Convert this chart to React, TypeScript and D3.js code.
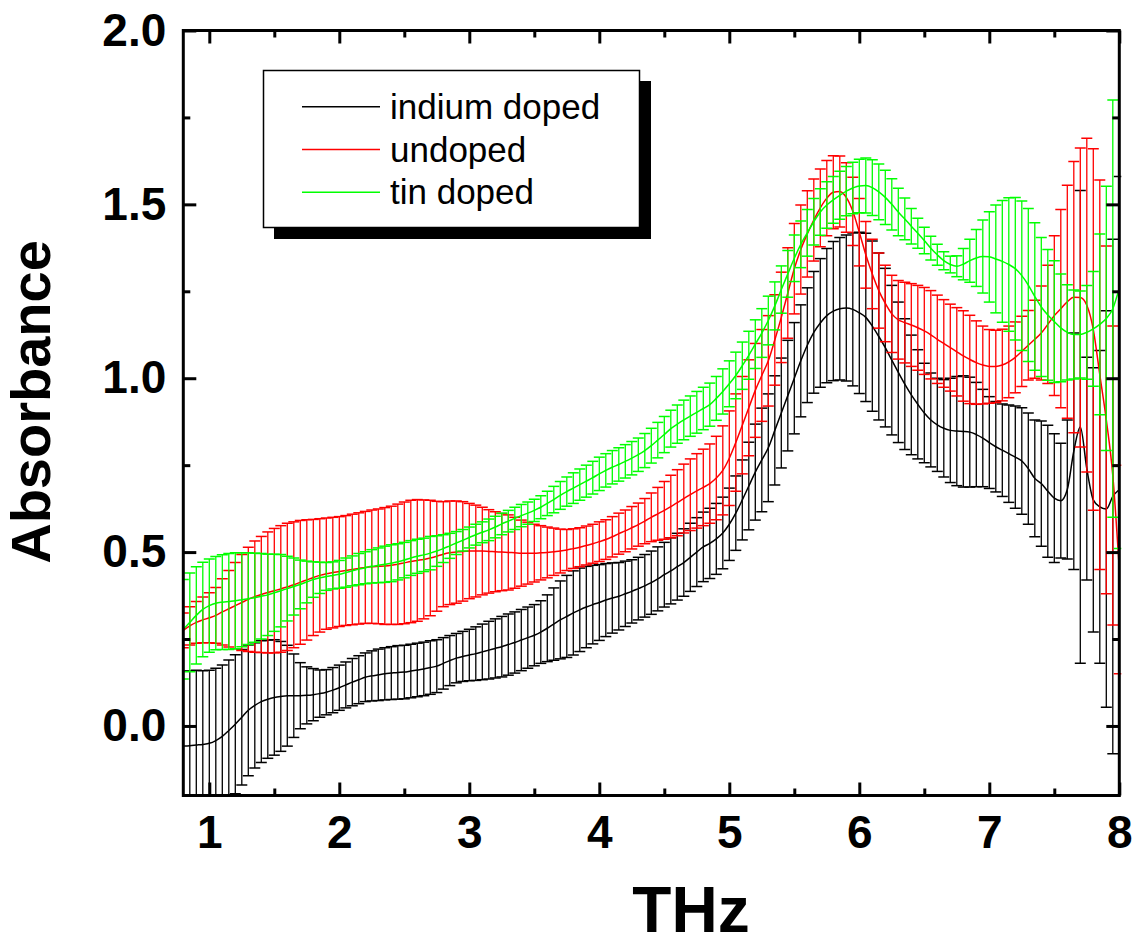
import React, { useEffect, useRef } from 'react';
import * as d3 from 'd3';

// absorbance, one value every 0.05 THz from 0.80 to 8.00
const indiumMean = [
  -0.058, -0.057, -0.055, -0.053, -0.050, -0.042, -0.030, -0.013, 0.005, 0.025,
  0.045, 0.059, 0.070, 0.077, 0.082, 0.085, 0.087, 0.087, 0.087, 0.088,
  0.090, 0.093, 0.097, 0.103, 0.110, 0.118, 0.126, 0.133, 0.140, 0.144,
  0.147, 0.150, 0.152, 0.154, 0.155, 0.158, 0.161, 0.164, 0.168, 0.172,
  0.180, 0.188, 0.195, 0.200, 0.204, 0.208, 0.213, 0.218, 0.223, 0.228,
  0.234, 0.240, 0.247, 0.254, 0.261, 0.270, 0.281, 0.293, 0.305, 0.315,
  0.325, 0.334, 0.342, 0.349, 0.355, 0.362, 0.368, 0.373, 0.380, 0.387,
  0.395, 0.403, 0.412, 0.423, 0.435, 0.446, 0.458, 0.470, 0.485, 0.500,
  0.515, 0.525, 0.538, 0.555, 0.580, 0.612, 0.650, 0.690, 0.730, 0.765,
  0.800, 0.850, 0.900, 0.950, 1.000, 1.050, 1.095, 1.132, 1.159, 1.180,
  1.193, 1.200, 1.202, 1.198, 1.188, 1.175, 1.150, 1.120, 1.088, 1.052,
  1.017, 0.983, 0.952, 0.925, 0.900, 0.880, 0.866, 0.856, 0.850, 0.848,
  0.847, 0.845, 0.838, 0.828, 0.815, 0.803, 0.793, 0.783, 0.773, 0.762,
  0.740, 0.712, 0.697, 0.675, 0.655, 0.648, 0.680, 0.790, 0.860, 0.740,
  0.650, 0.630, 0.624, 0.660, 0.680
];
const indiumErr = [
  0.215, 0.215, 0.215, 0.212, 0.210, 0.208, 0.205, 0.203, 0.200, 0.195,
  0.188, 0.180, 0.175, 0.170, 0.166, 0.158, 0.145, 0.120, 0.095, 0.082,
  0.075, 0.068, 0.065, 0.065, 0.065, 0.066, 0.068, 0.069, 0.070, 0.072,
  0.074, 0.075, 0.076, 0.077, 0.077, 0.077, 0.077, 0.077, 0.077, 0.076,
  0.074, 0.072, 0.071, 0.072, 0.074, 0.077, 0.080, 0.083, 0.085, 0.087,
  0.088, 0.088, 0.088, 0.088, 0.088, 0.090, 0.096, 0.104, 0.112, 0.118,
  0.121, 0.120, 0.117, 0.113, 0.109, 0.105, 0.101, 0.097, 0.094, 0.091,
  0.090, 0.090, 0.091, 0.092, 0.093, 0.095, 0.096, 0.097, 0.098, 0.099,
  0.100, 0.101, 0.102, 0.103, 0.104, 0.107, 0.115, 0.126, 0.138, 0.149,
  0.155, 0.157, 0.158, 0.159, 0.160, 0.161, 0.165, 0.175, 0.185, 0.193,
  0.200, 0.205, 0.210, 0.220, 0.232, 0.242, 0.245, 0.240, 0.228, 0.215,
  0.202, 0.188, 0.172, 0.157, 0.143, 0.135, 0.134, 0.140, 0.150, 0.157,
  0.160, 0.158, 0.150, 0.140, 0.132, 0.130, 0.133, 0.140, 0.147, 0.153,
  0.160, 0.168, 0.180, 0.190, 0.185, 0.165, 0.200, 0.340, 0.680, 0.320,
  0.380, 0.450, 0.570, 0.740, 0.900
];
const undopedMean = [
  0.275, 0.288, 0.298, 0.305, 0.311, 0.318, 0.328, 0.337, 0.346, 0.355,
  0.364, 0.372, 0.378, 0.384, 0.389, 0.394, 0.400, 0.406, 0.413, 0.420,
  0.427, 0.433, 0.438, 0.441, 0.444, 0.447, 0.450, 0.453, 0.456, 0.458,
  0.459, 0.460, 0.462, 0.465, 0.469, 0.473, 0.476, 0.479, 0.483, 0.488,
  0.494, 0.498, 0.500, 0.502, 0.503, 0.503, 0.503, 0.502, 0.501, 0.500,
  0.499, 0.498, 0.497, 0.497, 0.497, 0.498, 0.499, 0.501, 0.503, 0.506,
  0.510, 0.514, 0.519, 0.524, 0.530, 0.536, 0.544, 0.553, 0.561, 0.570,
  0.579, 0.589, 0.600, 0.610, 0.620, 0.631, 0.642, 0.654, 0.665, 0.676,
  0.686, 0.697, 0.713, 0.735, 0.770, 0.815, 0.865, 0.915, 0.965, 1.008,
  1.050, 1.110, 1.175, 1.245, 1.315, 1.370, 1.415, 1.455, 1.490, 1.518,
  1.535, 1.537, 1.520, 1.480, 1.420, 1.355, 1.300, 1.252, 1.215, 1.185,
  1.168, 1.160, 1.153, 1.145, 1.136, 1.125, 1.112, 1.100, 1.088, 1.076,
  1.064, 1.054, 1.045, 1.038, 1.034, 1.034, 1.038, 1.047, 1.060, 1.077,
  1.095, 1.112, 1.130, 1.155, 1.180, 1.200, 1.220, 1.233, 1.232, 1.210,
  1.140, 1.010, 0.880, 0.720, 0.450
];
const undopedErr = [
  0.050, 0.055, 0.060, 0.066, 0.072, 0.080, 0.095, 0.110, 0.124, 0.138,
  0.150, 0.160, 0.167, 0.174, 0.179, 0.182, 0.183, 0.181, 0.178, 0.173,
  0.167, 0.163, 0.160, 0.159, 0.158, 0.158, 0.159, 0.160, 0.161, 0.163,
  0.165, 0.168, 0.170, 0.173, 0.175, 0.176, 0.175, 0.171, 0.166, 0.158,
  0.151, 0.149, 0.147, 0.143, 0.137, 0.132, 0.126, 0.120, 0.115, 0.111,
  0.108, 0.102, 0.095, 0.089, 0.083, 0.078, 0.073, 0.068, 0.063, 0.059,
  0.057, 0.056, 0.056, 0.056, 0.057, 0.057, 0.058, 0.059, 0.060, 0.061,
  0.062, 0.065, 0.070, 0.076, 0.083, 0.090, 0.095, 0.099, 0.103, 0.107,
  0.110, 0.114, 0.120, 0.128, 0.136, 0.140, 0.140, 0.138, 0.135, 0.132,
  0.130, 0.130, 0.130, 0.130, 0.130, 0.128, 0.124, 0.118, 0.112, 0.108,
  0.105, 0.102, 0.100, 0.098, 0.097, 0.096, 0.100, 0.108, 0.110, 0.111,
  0.113, 0.116, 0.119, 0.122, 0.125, 0.127, 0.127, 0.126, 0.125, 0.127,
  0.130, 0.127, 0.120, 0.112, 0.106, 0.104, 0.103, 0.103, 0.102, 0.101,
  0.100, 0.112, 0.135, 0.170, 0.230, 0.285, 0.335, 0.390, 0.430, 0.480,
  0.520, 0.560, 0.500, 0.430, 0.300
];
const tinMean = [
  0.278, 0.298, 0.318, 0.335, 0.346, 0.353, 0.356, 0.358, 0.360, 0.363,
  0.366, 0.369, 0.373, 0.377, 0.383, 0.389, 0.395, 0.401, 0.407, 0.414,
  0.421, 0.426, 0.430, 0.433, 0.436, 0.441, 0.446, 0.451, 0.455, 0.459,
  0.462, 0.465, 0.468, 0.472, 0.477, 0.483, 0.488, 0.492, 0.497, 0.503,
  0.510, 0.518, 0.526, 0.534, 0.542, 0.550, 0.557, 0.564, 0.572, 0.581,
  0.589, 0.597, 0.605, 0.612, 0.620, 0.629, 0.640, 0.651, 0.663, 0.674,
  0.684, 0.694, 0.704, 0.714, 0.725, 0.735, 0.744, 0.752, 0.761, 0.770,
  0.780, 0.792, 0.806, 0.822, 0.838, 0.855, 0.868, 0.880, 0.891, 0.902,
  0.913, 0.924, 0.942, 0.962, 0.984, 1.008, 1.036, 1.066, 1.098, 1.130,
  1.166, 1.208, 1.255, 1.300, 1.345, 1.385, 1.418, 1.450, 1.478, 1.498,
  1.513, 1.526, 1.538, 1.547, 1.553, 1.554, 1.548, 1.536, 1.520, 1.500,
  1.478, 1.458, 1.437, 1.417, 1.396, 1.374, 1.355, 1.338, 1.327, 1.322,
  1.328, 1.338, 1.346, 1.350, 1.349, 1.343, 1.336, 1.327, 1.315, 1.295,
  1.268, 1.235, 1.205, 1.182, 1.163, 1.145, 1.132, 1.126, 1.126, 1.132,
  1.142, 1.155, 1.172, 1.200, 1.260
];
const tinErr = [
  0.143, 0.142, 0.140, 0.136, 0.134, 0.134, 0.136, 0.138, 0.138, 0.135,
  0.132, 0.128, 0.123, 0.117, 0.111, 0.104, 0.093, 0.082, 0.070, 0.060,
  0.051, 0.045, 0.040, 0.039, 0.040, 0.042, 0.043, 0.045, 0.046, 0.048,
  0.050, 0.052, 0.053, 0.052, 0.051, 0.050, 0.049, 0.048, 0.048, 0.044,
  0.040, 0.036, 0.033, 0.031, 0.030, 0.030, 0.030, 0.031, 0.031, 0.031,
  0.031, 0.032, 0.032, 0.032, 0.032, 0.033, 0.035, 0.038, 0.040, 0.042,
  0.044, 0.045, 0.046, 0.047, 0.048, 0.048, 0.048, 0.048, 0.048, 0.048,
  0.048, 0.049, 0.050, 0.051, 0.052, 0.053, 0.055, 0.057, 0.058, 0.060,
  0.061, 0.062, 0.063, 0.065, 0.066, 0.067, 0.068, 0.069, 0.070, 0.070,
  0.070, 0.069, 0.068, 0.067, 0.067, 0.067, 0.067, 0.067, 0.067, 0.067,
  0.067, 0.069, 0.071, 0.074, 0.077, 0.079, 0.080, 0.080, 0.078, 0.074,
  0.068, 0.060, 0.051, 0.043, 0.038, 0.034, 0.030, 0.026, 0.024, 0.030,
  0.045, 0.062, 0.082, 0.105, 0.130, 0.155, 0.175, 0.192, 0.205, 0.215,
  0.220, 0.212, 0.200, 0.188, 0.175, 0.155, 0.137, 0.128, 0.125, 0.135,
  0.165, 0.260, 0.380, 0.600, 0.750
];

const freqStart = 0.8;
const freqStep = 0.05;
const xTicks = [1, 2, 3, 4, 5, 6, 7, 8];
const xMinor = [1.5, 2.5, 3.5, 4.5, 5.5, 6.5, 7.5];
const yTicks = [0, 0.5, 1.0, 1.5, 2.0];
const yMinor = [0.25, 0.75, 1.25, 1.75];
const seriesNames = ['indium doped', 'undoped', 'tin doped'];
const seriesColors = ['#000000', '#ff0000', '#00ff00'];

const FONT = "'Liberation Sans', Arial, Helvetica, sans-serif";

export default function App() {
  const ref = useRef<SVGSVGElement>(null);

  useEffect(() => {
    const svg = d3.select(ref.current);
    svg.selectAll('*').remove();

    const left = 183.3, right = 1119.3, top = 30.5, bottom = 795.5;
    const x = d3.scaleLinear().domain([0.8, 8]).range([left, right]);
    const y = d3.scaleLinear().domain([-0.2, 2.0]).range([bottom, top]);

    const freq = indiumMean.map((_, i) => freqStart + i * freqStep);
    const series = [
      { mean: indiumMean, err: indiumErr },
      { mean: undopedMean, err: undopedErr },
      { mean: tinMean, err: tinErr },
    ];

    svg.append('rect').attr('width', 1138).attr('height', 945).attr('fill', '#fff');

    svg.append('clipPath').attr('id', 'plotclip')
      .append('rect')
      .attr('x', left).attr('y', top)
      .attr('width', right - left + 2).attr('height', bottom - top);

    const plot = svg.append('g').attr('clip-path', 'url(#plotclip)');
    const cap = 5.5;

    series.forEach((s, k) => {
      const color = seriesColors[k];
      const pts = freq.map((f, i) => ({ f, m: s.mean[i], e: s.err[i] }));
      const g = plot.append('g').attr('stroke', color).attr('fill', 'none');

      g.selectAll('line.bar').data(pts).enter().append('line')
        .attr('class', 'bar')
        .attr('x1', d => x(d.f)).attr('x2', d => x(d.f))
        .attr('y1', d => y(d.m - d.e)).attr('y2', d => y(d.m + d.e))
        .attr('stroke-width', 1.3);
      g.selectAll('line.capt').data(pts).enter().append('line')
        .attr('class', 'capt')
        .attr('x1', d => x(d.f) - cap).attr('x2', d => x(d.f) + cap)
        .attr('y1', d => y(d.m + d.e)).attr('y2', d => y(d.m + d.e))
        .attr('stroke-width', 1.5);
      g.selectAll('line.capb').data(pts).enter().append('line')
        .attr('class', 'capb')
        .attr('x1', d => x(d.f) - cap).attr('x2', d => x(d.f) + cap)
        .attr('y1', d => y(d.m - d.e)).attr('y2', d => y(d.m - d.e))
        .attr('stroke-width', 1.5);

      const line = d3.line<{ f: number; m: number }>()
        .x(d => x(d.f)).y(d => y(d.m))
        .curve(d3.curveMonotoneX);
      g.append('path').attr('d', line(pts)).attr('stroke-width', 1.5);
    });

    // axes: ticks point inward on all four sides
    const styleAxis = (g: any, labels: boolean) => {
      g.select('.domain').remove();
      g.selectAll('line').attr('stroke', '#000').attr('stroke-width', 3);
      g.attr('font-family', FONT).attr('font-size', 46).attr('font-weight', 'bold');
      if (!labels) g.selectAll('text').remove();
      else g.selectAll('text').attr('fill', '#000');
    };

    const gxb = svg.append('g').attr('transform', `translate(0,${bottom})`)
      .call(d3.axisBottom(x).tickValues(xTicks).tickSize(-13).tickPadding(20).tickFormat(d3.format('d')));
    styleAxis(gxb, true);
    const gxbm = svg.append('g').attr('transform', `translate(0,${bottom})`)
      .call(d3.axisBottom(x).tickValues(xMinor).tickSize(-7));
    styleAxis(gxbm, false);
    const gxt = svg.append('g').attr('transform', `translate(0,${top})`)
      .call(d3.axisTop(x).tickValues(xTicks).tickSize(-13));
    styleAxis(gxt, false);
    const gxtm = svg.append('g').attr('transform', `translate(0,${top})`)
      .call(d3.axisTop(x).tickValues(xMinor).tickSize(-7));
    styleAxis(gxtm, false);

    const gyl = svg.append('g').attr('transform', `translate(${left},0)`)
      .call(d3.axisLeft(y).tickValues(yTicks).tickSize(-13).tickPadding(17).tickFormat(d3.format('.1f')));
    styleAxis(gyl, true);
    const gylm = svg.append('g').attr('transform', `translate(${left},0)`)
      .call(d3.axisLeft(y).tickValues(yMinor).tickSize(-7));
    styleAxis(gylm, false);
    const gyr = svg.append('g').attr('transform', `translate(${right},0)`)
      .call(d3.axisRight(y).tickValues(yTicks).tickSize(-13));
    styleAxis(gyr, false);
    const gyrm = svg.append('g').attr('transform', `translate(${right},0)`)
      .call(d3.axisRight(y).tickValues(yMinor).tickSize(-7));
    styleAxis(gyrm, false);

    svg.append('rect')
      .attr('x', left).attr('y', top)
      .attr('width', right - left).attr('height', bottom - top)
      .attr('fill', 'none').attr('stroke', '#000').attr('stroke-width', 3);

    // axis titles
    svg.append('text')
      .attr('x', 691).attr('y', 932)
      .attr('text-anchor', 'middle')
      .attr('font-family', FONT).attr('font-weight', 'bold').attr('font-size', 64)
      .text('THz');
    svg.append('text')
      .attr('transform', 'translate(50,402) rotate(-90)')
      .attr('text-anchor', 'middle')
      .attr('font-family', FONT).attr('font-weight', 'bold').attr('font-size', 56)
      .text('Absorbance');

    // legend with drop shadow
    const lg = svg.append('g');
    lg.append('rect').attr('x', 274).attr('y', 81).attr('width', 377).attr('height', 158).attr('fill', '#000');
    lg.append('rect').attr('x', 263.5).attr('y', 70.5).attr('width', 376).attr('height', 157)
      .attr('fill', '#fff').attr('stroke', '#000').attr('stroke-width', 1.5);
    seriesNames.forEach((name, i) => {
      const ly = 106.7 + i * 42.8;
      lg.append('line').attr('x1', 302).attr('x2', 380).attr('y1', ly).attr('y2', ly)
        .attr('stroke', seriesColors[i]).attr('stroke-width', 1.5);
      lg.append('text').attr('x', 390).attr('y', ly + 12)
        .attr('font-family', FONT).attr('font-size', 35).attr('fill', '#000')
        .text(name);
    });
  }, []);

  return (
    <svg
      ref={ref}
      width={1138}
      height={945}
      style={{ position: 'absolute', left: 0, top: 0, display: 'block' }}
    />
  );
}
